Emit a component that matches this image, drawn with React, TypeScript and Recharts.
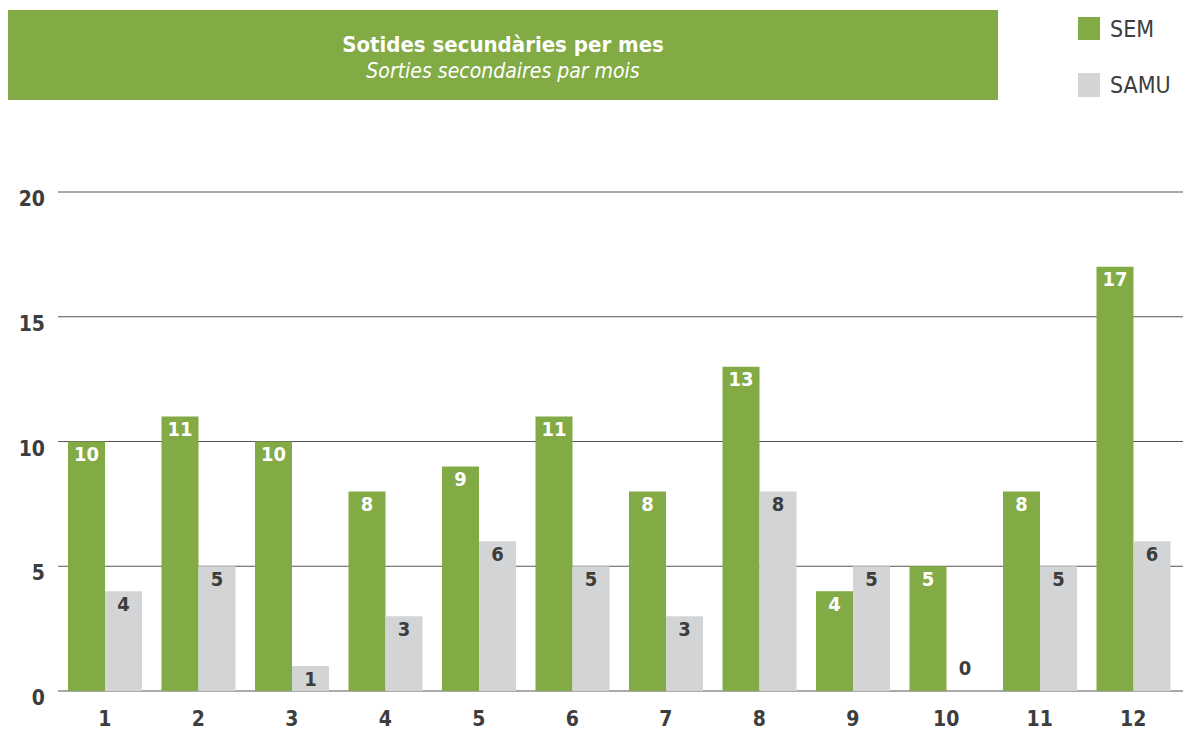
import React from 'react';
import { BarChart, Bar, XAxis, YAxis, CartesianGrid, LabelList } from 'recharts';

const months = ['1', '2', '3', '4', '5', '6', '7', '8', '9', '10', '11', '12'];
const semValues = [10, 11, 10, 8, 9, 11, 8, 13, 4, 5, 8, 17];
const samuValues = [4, 5, 1, 3, 6, 5, 3, 8, 5, 0, 5, 6];
const yTicks = [0, 5, 10, 15, 20];

const GREEN = '#82aa45';
const GREY = '#d3d4d6';
const INK = '#3d3d3d';
const FONT = '"Liberation Sans Narrow", "DejaVu Sans Condensed", sans-serif';

const data = months.map((m, i) => ({ month: m, SEM: semValues[i], SAMU: samuValues[i] }));

const YTick = (props: any) => {
  const { x, y, payload } = props;
  return (
    <text x={x - 5} y={y + 8} textAnchor="end" dominantBaseline="middle"
      fontFamily={FONT} fontWeight="bold" fontSize={21} fill={INK}>
      {payload.value}
    </text>
  );
};

const XTick = (props: any) => {
  const { x, y, payload } = props;
  return (
    <text x={x} y={y + 21} textAnchor="middle" dominantBaseline="middle"
      fontFamily={FONT} fontWeight="bold" fontSize={21} fill={INK}>
      {payload.value}
    </text>
  );
};

// values inside the top of the bars; a zero sits above the baseline
const makeLabel = (color: string) => (props: any) => {
  const { x, y, width, value } = props;
  if (value === undefined || value === null) return null;
  const ty = Number(value) === 0 ? y - 21 : y + 14;
  return (
    <text x={x + width / 2} y={ty} textAnchor="middle" dominantBaseline="middle"
      fontFamily={FONT} fontWeight="bold" fontSize={20} fill={color}>
      {value}
    </text>
  );
};

// keeps a hairline bar for zero values so the label still gets drawn
const zeroKeep = (value: any) => (Number(value) === 0 ? 0.01 : 0);

export default function App() {
  return (
    <div style={{ position: 'absolute', left: 0, top: 0, width: 1183, height: 731, background: '#ffffff', overflow: 'hidden' }}>
      <div style={{
        position: 'absolute', left: 8, top: 10, width: 990, height: 90, background: GREEN,
        color: '#fff', fontFamily: FONT, textAlign: 'center',
      }}>
        <div style={{ marginTop: 22, fontSize: 22, fontWeight: 'bold', lineHeight: '26px' }}>Sotides secundàries per mes</div>
        <div style={{ fontSize: 21, fontStyle: 'italic', lineHeight: '26px' }}>Sorties secondaires par mois</div>
      </div>
      <div style={{ position: 'absolute', left: 1078, top: 17, width: 22, height: 23, background: GREEN }} />
      <div style={{ position: 'absolute', left: 1110, top: 16, fontFamily: FONT, fontSize: 23, lineHeight: '26px', color: INK }}>SEM</div>
      <div style={{ position: 'absolute', left: 1078, top: 73, width: 22, height: 24, background: GREY }} />
      <div style={{ position: 'absolute', left: 1110, top: 72, fontFamily: FONT, fontSize: 23, lineHeight: '26px', color: INK }}>SAMU</div>
      <div style={{ position: 'absolute', left: 0, top: 0 }}>
        <BarChart width={1183} height={731} data={data}
          margin={{ top: 192, right: 0, bottom: 0, left: 0 }}
          barCategoryGap={10} barGap={0}>
          <CartesianGrid vertical={false} stroke="#555" strokeWidth={1} />
          <XAxis dataKey="month" height={40} axisLine={false} tickLine={false} tick={<XTick />} padding={{ left: 0, right: 3 }} />
          <YAxis width={58} domain={[0, 20]} ticks={yTicks} axisLine={false} tickLine={false} tick={<YTick />} />
          <Bar dataKey="SEM" fill={GREEN} isAnimationActive={false} minPointSize={zeroKeep}>
            <LabelList dataKey="SEM" content={makeLabel('#ffffff')} />
          </Bar>
          <Bar dataKey="SAMU" fill={GREY} isAnimationActive={false} minPointSize={zeroKeep}>
            <LabelList dataKey="SAMU" content={makeLabel(INK)} />
          </Bar>
        </BarChart>
      </div>
    </div>
  );
}
